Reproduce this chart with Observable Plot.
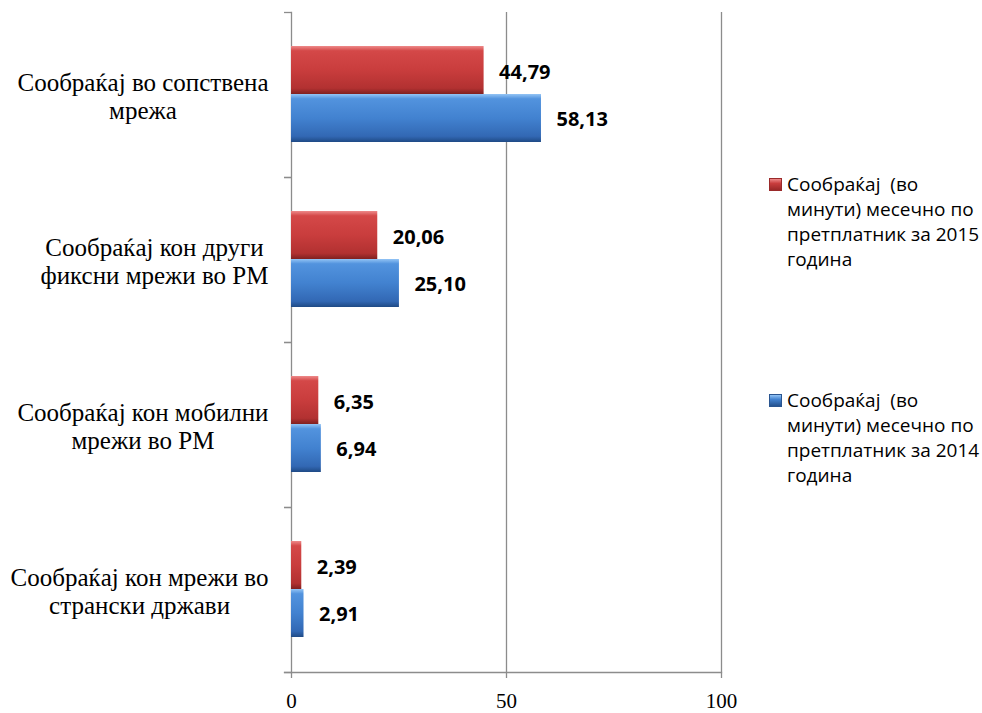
<!DOCTYPE html>
<html>
<head>
<meta charset="utf-8">
<script src="https://cdn.jsdelivr.net/npm/d3@7"></script>
<script src="https://cdn.jsdelivr.net/npm/@observablehq/plot@0.6"></script>
<style>
  html, body { margin: 0; padding: 0; background: #fff; }
  #wrap { position: relative; width: 982px; height: 713px; }
  .leg { position: absolute; left: 787px; font-family: "Open Sans", sans-serif; font-size: 19px; line-height: 25px; color: #000; white-space: pre; }
  .sw { position: absolute; width: 13px; height: 13px; box-sizing: border-box; }
</style>
</head>
<body>
<div id="wrap"></div>
<script>
// ---- data ----
const categories = [
  "Сообраќај во сопствена мрежа",
  "Сообраќај кон други фиксни мрежи во РМ",
  "Сообраќај кон мобилни мрежи во РМ",
  "Сообраќај кон мрежи во странски држави"
];
const categoryLines = [
  ["Сообраќај во сопствена", "мрежа"],
  ["Сообраќај кон други", "фиксни мрежи во РМ"],
  ["Сообраќај кон мобилни", "мрежи во РМ"],
  ["Сообраќај кон мрежи во", "странски држави"]
];
const values2015 = [44.79, 20.06, 6.35, 2.39];
const values2014 = [58.13, 25.10, 6.94, 2.91];
const seriesNames = [
  "Сообраќај  (во минути) месечно по претплатник за 2015 година",
  "Сообраќај  (во минути) месечно по претплатник за 2014 година"
];
const legendLines = [
  ["Сообраќај  (во", "минути) месечно по", "претплатник за 2015", "година"],
  ["Сообраќај  (во", "минути) месечно по", "претплатник за 2014", "година"]
];
const xTicks = [0, 50, 100];
const xDomain = [0, 100];

// ---- layout ----
const W = 982, H = 713, mL = 291, mR = 261, mT = 12, mB = 41;
const band = (H - mT - mB) / categories.length;
const gray = "#8c8c8c";
const serif = "Liberation Serif";
const catSize = 25;

const rows2015 = categories.map((c, i) => ({category: c, value: values2015[i]}));
const rows2014 = categories.map((c, i) => ({category: c, value: values2014[i]}));
const fmt = v => v.toFixed(2).replace(".", ",");

// measure label widths to centre lines within a right-aligned block
const ctx = document.createElement("canvas").getContext("2d");
ctx.font = `${catSize}px "${serif}"`;
const blockW = categoryLines.map(ls => Math.max(...ls.map(l => ctx.measureText(l).width)));

const catMarks = categories.map((c, i) =>
  Plot.text([c], {
    y: d => d,
    text: () => categoryLines[i].join("\n"),
    frameAnchor: "left",
    textAnchor: "middle",
    dx: -(23 + blockW[i] / 2),
    dy: 1,
    lineHeight: 27.5 / catSize,
    fontSize: catSize,
    fontFamily: serif,
    fill: "#000"
  })
);

const chart = Plot.plot({
  width: W,
  height: H,
  marginLeft: mL,
  marginRight: mR,
  marginTop: mT,
  marginBottom: mB,
  style: {color: "#000", background: "#fff", overflow: "visible"},
  x: {domain: xDomain, label: null},
  y: {domain: categories, padding: 0, label: null},
  marks: [
    Plot.ruleX(xTicks.filter(t => t > 0), {stroke: gray, strokeWidth: 1.3}),
    Plot.frame({anchor: "left", stroke: gray, strokeWidth: 1.3}),
    Plot.frame({anchor: "bottom", stroke: gray, strokeWidth: 1.3, insetLeft: -7}),
    Plot.axisY({tickSize: 7, tickFormat: () => "", label: null, stroke: gray, strokeWidth: 1.3, dy: -band / 2}),
    Plot.axisY({tickSize: 7, tickFormat: () => "", label: null, stroke: gray, strokeWidth: 1.3, dy: band / 2}),
    Plot.axisX(xTicks, {tickSize: 6, tickPadding: 15, stroke: gray, strokeWidth: 1.3, fill: "#000", fontSize: 21, fontFamily: serif, label: null}),
    Plot.barX(rows2015, {x: "value", y: "category", fill: "url(#gradRed)", insetTop: 34, insetBottom: 83}),
    Plot.barX(rows2014, {x: "value", y: "category", fill: "url(#gradBlue)", insetTop: 82, insetBottom: 35}),
    Plot.text(rows2015, {x: "value", y: "category", text: d => fmt(d.value), dx: 15, dy: -22, textAnchor: "start", fontSize: 20, fontWeight: "bold", fontFamily: "Open Sans", fill: "#000"}),
    Plot.text(rows2014, {x: "value", y: "category", text: d => fmt(d.value), dx: 15, dy: 25, textAnchor: "start", fontSize: 20, fontWeight: "bold", fontFamily: "Open Sans", fill: "#000"}),
    ...catMarks
  ]
});

chart.insertAdjacentHTML("afterbegin", `
<defs>
  <linearGradient id="gradRed" x1="0" y1="0" x2="0" y2="1">
    <stop offset="0" stop-color="#ee8a8a"/>
    <stop offset="0.1" stop-color="#d44848"/>
    <stop offset="0.5" stop-color="#c93d3d"/>
    <stop offset="0.88" stop-color="#b23131"/>
    <stop offset="1" stop-color="#7f2020"/>
  </linearGradient>
  <linearGradient id="gradBlue" x1="0" y1="0" x2="0" y2="1">
    <stop offset="0" stop-color="#93c4f5"/>
    <stop offset="0.1" stop-color="#5293de"/>
    <stop offset="0.5" stop-color="#4282d0"/>
    <stop offset="0.88" stop-color="#3268b4"/>
    <stop offset="1" stop-color="#1f4a85"/>
  </linearGradient>
</defs>`);

const wrap = document.getElementById("wrap");
wrap.appendChild(chart);

// legend
const legendTops = [172, 388];
const swatchBg = [
  "linear-gradient(#ee8a8a, #c93d3d 40%, #9a2828)",
  "linear-gradient(#93c4f5, #4282d0 40%, #25528f)"
];
const swatchBorder = ["#9a2a2a", "#2a5590"];
legendLines.forEach((lines, i) => {
  const sw = document.createElement("div");
  sw.className = "sw";
  sw.style.left = "769px";
  sw.style.top = (legendTops[i] + 6) + "px";
  sw.style.background = swatchBg[i];
  sw.style.border = "1px solid " + swatchBorder[i];
  sw.title = seriesNames[i];
  wrap.appendChild(sw);
  const t = document.createElement("div");
  t.className = "leg";
  t.style.top = legendTops[i] + "px";
  t.textContent = lines.join("\n");
  wrap.appendChild(t);
});
</script>
</body>
</html>
